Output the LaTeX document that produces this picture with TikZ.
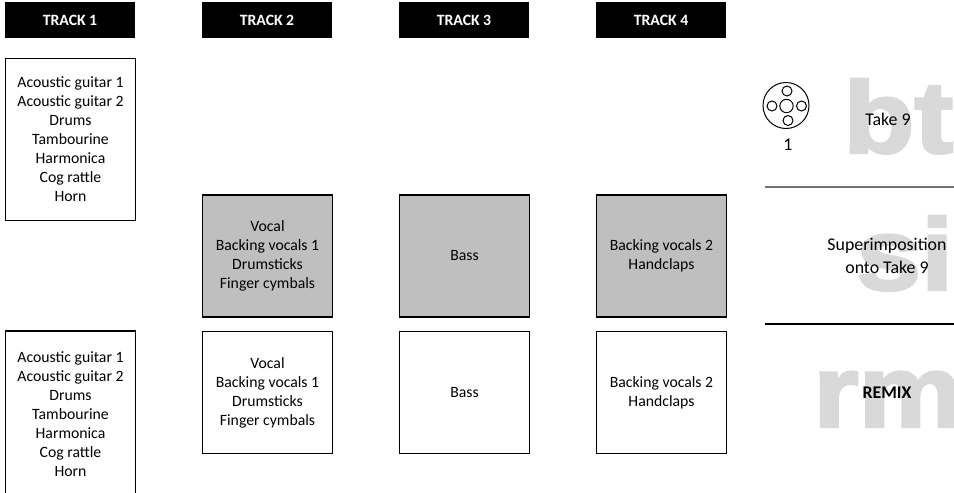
\documentclass[tikz,border=0pt]{standalone}
\usepackage{fontspec}
\setmainfont{Carlito}
\newfontfamily\ghostfont{Liberation Sans}[BoldFeatures={FakeBold=3,FakeStretch=1.15}]
\definecolor{boxgrey}{HTML}{BFBFBF}
\definecolor{ghostgrey}{HTML}{D9D9D9}
\tikzset{
  x=0.75pt,y=-0.75pt,
  header/.style={fill=black,draw=none,text=white,font=\fontsize{11.8}{14}\selectfont\bfseries,minimum width=97.5pt,minimum height=27pt,inner sep=0pt},
  trackbox/.style={draw=black,line width=0.9pt,fill=white,align=center,font=\fontsize{11.8}{14.25}\selectfont,minimum width=97pt,inner sep=0pt},
  greybox/.style={trackbox,fill=boxgrey},
  tall/.style={minimum height=121.5pt},
  cuttall/.style={minimum height=124.5pt},
  square/.style={minimum height=91.5pt},
  ghost/.style={text=ghostgrey,font=\fontsize{76}{76}\ghostfont\bfseries,inner sep=0pt,anchor=base west},
  caption/.style={align=center,font=\fontsize{13.4}{17.25}\selectfont,inner sep=0pt},
  divider/.style={line width=0.9pt},
  pin/.style={draw=black,line width=0.75pt,fill=white,circle,inner sep=0pt}
}
\begin{document}
\begin{tikzpicture}
\useasboundingbox (0,0) rectangle (954,493);
\clip (0,0) rectangle (954,493);
\node[header] (h1) at (70,20) {TRACK 1};
\node[header] (h2) at (267,20) {TRACK 2};
\node[header] (h3) at (464,20) {TRACK 3};
\node[header] (h4) at (661,20) {TRACK 4};
\def\instr{Acoustic guitar 1\\Acoustic guitar 2\\Drums\\Tambourine\\Harmonica\\Cog rattle\\Horn}
\node[trackbox,tall] (a1) at (70.5,139.5) {\instr};
\node[trackbox,cuttall] (c1) at (70.5,414) {\instr};
\node[greybox,square] (b2) at (267.5,256) {Vocal\\Backing vocals 1\\Drumsticks\\Finger cymbals};
\node[greybox,square] (b3) at (464.5,256) {Bass};
\node[greybox,square] (b4) at (661.5,256) {Backing vocals 2\\Handclaps};
\node[trackbox,square] (c2) at (267.5,392.5) {Vocal\\Backing vocals 1\\Drumsticks\\Finger cymbals};
\node[trackbox,square] (c3) at (464.5,392.5) {Bass};
\node[trackbox,square] (c4) at (661.5,392.5) {Backing vocals 2\\Handclaps};
\node[ghost] (gbt) at (843,152.5) {bt};
\node[ghost] (gsi) at (856,289.5) {si};
\node[ghost] (grm) at (813,426.5) {rm};
\coordinate (d1l) at (765,187); \coordinate (d1r) at (954,187);
\coordinate (d2l) at (765,324); \coordinate (d2r) at (954,324);
\draw[divider,draw=black!55] (d1l) -- (d1r);
\draw[divider] (d2l) -- (d2r);
\node[caption] (take) at (888,119) {Take 9};
\node[caption] (super) at (887,256) {Superimposition\\onto Take 9};
\node[caption,font=\fontsize{13.4}{17.25}\selectfont\bfseries] (remix) at (887,393) {REMIX};
\node[draw=black,line width=0.75pt,circle,minimum size=34.5pt,inner sep=0pt] (plug) at (786,105.5) {};
\node[pin,minimum size=10pt] (p0) at (786.5,106) {};
\node[pin,minimum size=7.5pt] (p1) at (787,91) {};
\node[pin,minimum size=7.5pt] (p2) at (788,120.5) {};
\node[pin,minimum size=7.5pt] (p3) at (772,106) {};
\node[pin,minimum size=7.5pt] (p4) at (801.5,106) {};
\node[caption] (one) at (788,145) {1};
\end{tikzpicture}
\end{document}
